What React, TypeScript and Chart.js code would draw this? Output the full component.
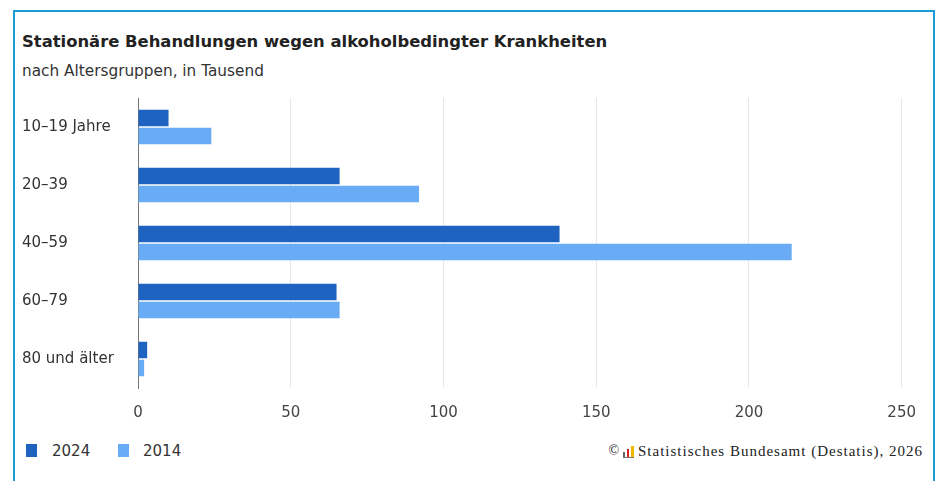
import { useEffect, useRef } from "react";
import { Chart, registerables } from "chart.js";
Chart.register(...registerables);

const categories = ["10–19 Jahre", "20–39", "40–59", "60–79", "80 und älter"];
const series2024 = [10, 66, 138, 65, 3];
const series2014 = [24, 92, 214, 66, 2];
const seriesLabels = ["2024", "2014"];
const xTickValues = [0, 50, 100, 150, 200, 250];

const COLOR_2024 = "#1f63c1";
const COLOR_2014 = "#6aabf6";
const SANS = "'DejaVu Sans', 'Liberation Sans', Arial, sans-serif";

export default function App() {
  const canvasRef = useRef<HTMLCanvasElement | null>(null);

  useEffect(() => {
    if (!canvasRef.current) return;
    const chart = new Chart(canvasRef.current, {
      type: "bar",
      data: {
        labels: categories,
        datasets: [
          {
            label: seriesLabels[0],
            data: series2024,
            backgroundColor: COLOR_2024,
            categoryPercentage: 0.62,
            barPercentage: 0.92,
          },
          {
            label: seriesLabels[1],
            data: series2014,
            backgroundColor: COLOR_2014,
            categoryPercentage: 0.62,
            barPercentage: 0.92,
          },
        ],
      },
      options: {
        indexAxis: "y",
        animation: false,
        responsive: true,
        maintainAspectRatio: false,
        layout: { padding: { top: 0, right: 27, bottom: 0, left: 0 } },
        plugins: {
          legend: { display: false },
          tooltip: { enabled: false },
        },
        scales: {
          x: {
            min: xTickValues[0],
            max: xTickValues[xTickValues.length - 1],
            afterBuildTicks: (scale: any) => {
              scale.ticks = xTickValues.map((v) => ({ value: v }));
            },
            afterFit: (scale: any) => {
              scale.height = 42;
            },
            grid: { color: "#e6e6e6", drawTicks: false, lineWidth: 1 },
            border: { display: false },
            ticks: {
              padding: 16,
              color: "#444",
              font: { family: SANS, size: 15 },
            },
          },
          y: {
            afterFit: (scale: any) => {
              scale.width = 116;
            },
            grid: { display: false, drawTicks: false },
            border: { display: true, color: "#777", width: 1 },
            ticks: {
              crossAlign: "far",
              padding: 8,
              color: "#333",
              font: { family: SANS, size: 15 },
            },
          },
        },
      },
    });
    return () => chart.destroy();
  }, []);

  const abs = (s: React.CSSProperties): React.CSSProperties => ({ position: "absolute", ...s });

  return (
    <div style={abs({ left: 0, top: 0, width: 938, height: 481, overflow: "hidden", background: "#fff", fontFamily: SANS })}>
      <div style={abs({ left: 13, top: 10, width: 922, height: 490, boxSizing: "border-box", border: "2px solid #1b9ad8" })} />
      <div style={abs({ left: 22, top: 32, fontSize: 16.4, lineHeight: "20px", fontWeight: "bold", color: "#222", whiteSpace: "nowrap" })}>
        Stationäre Behandlungen wegen alkoholbedingter Krankheiten
      </div>
      <div style={abs({ left: 22, top: 62, fontSize: 15.3, lineHeight: "18px", color: "#333", whiteSpace: "nowrap" })}>
        nach Altersgruppen, in Tausend
      </div>
      <div style={abs({ left: 22, top: 81, width: 910, height: 349 })}>
        <canvas ref={canvasRef} />
      </div>
      <div style={abs({ left: 26, top: 444, width: 11, height: 13, background: COLOR_2024 })} />
      <div style={abs({ left: 52, top: 442, fontSize: 15, lineHeight: "18px", color: "#333" })}>{seriesLabels[0]}</div>
      <div style={abs({ left: 118, top: 444, width: 11, height: 13, background: COLOR_2014 })} />
      <div style={abs({ left: 143, top: 442, fontSize: 15, lineHeight: "18px", color: "#333" })}>{seriesLabels[1]}</div>
      <div style={abs({ right: 15, top: 441, fontSize: 15, lineHeight: "20px", color: "#222", whiteSpace: "nowrap", fontFamily: "'Liberation Serif', 'Times New Roman', serif", display: "flex", alignItems: "center" })}>
        <span style={{ fontSize: 14, marginRight: 4 }}>©</span>
        <span style={{ display: "inline-flex", alignItems: "flex-end", height: 12, marginRight: 4, borderBottom: "1px solid #777" }}>
          <span style={{ display: "inline-block", width: 2, height: 5, background: "#666", marginRight: 2 }} />
          <span style={{ display: "inline-block", width: 2, height: 8, background: "#d22", marginRight: 2 }} />
          <span style={{ display: "inline-block", width: 3, height: 11, background: "#f2b800" }} />
        </span>
        <span style={{ letterSpacing: 1 }}>Statistisches Bundesamt (Destatis), 2026</span>
      </div>
    </div>
  );
}
